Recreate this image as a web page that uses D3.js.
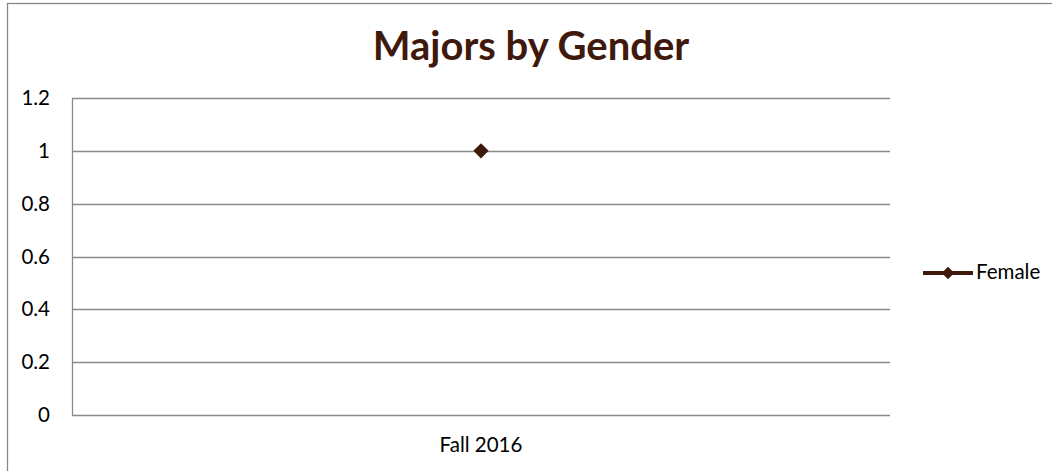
<!DOCTYPE html>
<html lang="en">
<head>
    <meta charset="UTF-8">
    <title>Majors by Gender</title>
    <script src="https://d3js.org/d3.v7.min.js"></script>
    <style>
        body { margin: 0; background: #fff; }
        svg { display: block; }
        text { font-family: Lato, Carlito, sans-serif; }
    </style>
</head>
<body>
    <div id="chart"></div>

    <script>
        // data
        const categories = ['Fall 2016'];
        const female = [1];
        const seriesNames = ['Female'];
        const yTicks = [0, 0.2, 0.4, 0.6, 0.8, 1, 1.2];

        const svgWidth = 1052;
        const svgHeight = 471;
        const margin = { top: 98, right: 162, bottom: 56, left: 72 };
        const width = svgWidth - margin.left - margin.right;
        const height = svgHeight - margin.top - margin.bottom;
        const brown = '#3f1a0c';
        const labelSize = '20.5px';

        const root = d3.select('#chart')
            .append('svg')
            .attr('width', svgWidth)
            .attr('height', svgHeight);

        // outer chart border (right and bottom run off the picture)
        root.append('rect')
            .attr('x', 7.5)
            .attr('y', 3.5)
            .attr('width', 1060)
            .attr('height', 480)
            .attr('fill', 'none')
            .attr('stroke', '#888')
            .attr('stroke-width', 1.3);

        // title
        root.append('text')
            .attr('x', 531)
            .attr('y', 60)
            .attr('text-anchor', 'middle')
            .style('font-size', '40px')
            .style('font-weight', 'bold')
            .style('fill', brown)
            .text('Majors by Gender');

        const svg = root.append('g')
            .attr('transform', `translate(${margin.left}, ${margin.top})`);

        const x = d3.scaleBand()
            .domain(categories)
            .range([0, width]);

        const y = d3.scaleLinear()
            .domain([0, 1.2])
            .range([height, 0]);

        // gridlines
        svg.selectAll('.grid')
            .data(yTicks)
            .enter()
            .append('line')
            .attr('x1', 0)
            .attr('x2', width)
            .attr('y1', d => Math.round(y(d)) + 0.5)
            .attr('y2', d => Math.round(y(d)) + 0.5)
            .attr('stroke', '#8a8a8a')
            .attr('stroke-width', 1.3);

        // left axis line
        svg.append('line')
            .attr('x1', 0.5).attr('x2', 0.5)
            .attr('y1', 0).attr('y2', height)
            .attr('stroke', '#8a8a8a')
            .attr('stroke-width', 1.3);

        // y axis labels
        const yAxis = svg.append('g')
            .call(d3.axisLeft(y).tickValues(yTicks).tickSize(0).tickPadding(22)
                .tickFormat(d => String(+d.toFixed(1))));
        yAxis.select('.domain').remove();
        yAxis.selectAll('text')
            .attr('font-family', null)
            .style('font-size', labelSize)
            .style('fill', '#000');

        // x axis labels
        const xAxis = svg.append('g')
            .attr('transform', `translate(0, ${height})`)
            .call(d3.axisBottom(x).tickSize(0).tickPadding(23));
        xAxis.select('.domain').remove();
        xAxis.selectAll('text')
            .attr('dy', '0.7em')
            .style('font-size', labelSize)
            .style('fill', '#000');

        // series line and markers
        svg.append('path')
            .datum(female)
            .attr('fill', 'none')
            .attr('stroke', brown)
            .attr('stroke-width', 3)
            .attr('d', d3.line()
                .x((d, i) => x(categories[i]) + x.bandwidth() / 2)
                .y(d => y(d)));

        svg.selectAll('.point')
            .data(female)
            .enter()
            .append('path')
            .attr('class', 'point')
            .attr('transform', (d, i) => `translate(${x(categories[i]) + x.bandwidth() / 2}, ${y(d)})`)
            .attr('d', d3.symbol().type(d3.symbolDiamond2).size(150))
            .attr('fill', brown);

        // legend
        const legend = root.append('g')
            .attr('transform', 'translate(923, 273)');
        legend.append('line')
            .attr('x1', 0).attr('x2', 50)
            .attr('y1', 0).attr('y2', 0)
            .attr('stroke', brown)
            .attr('stroke-width', 4);
        legend.append('path')
            .attr('transform', 'translate(25, 0)')
            .attr('d', d3.symbol().type(d3.symbolDiamond2).size(100))
            .attr('fill', brown);
        legend.append('text')
            .attr('x', 53)
            .attr('y', 6)
            .style('font-size', labelSize)
            .style('fill', '#000')
            .text(seriesNames[0]);
    </script>
</body>
</html>
